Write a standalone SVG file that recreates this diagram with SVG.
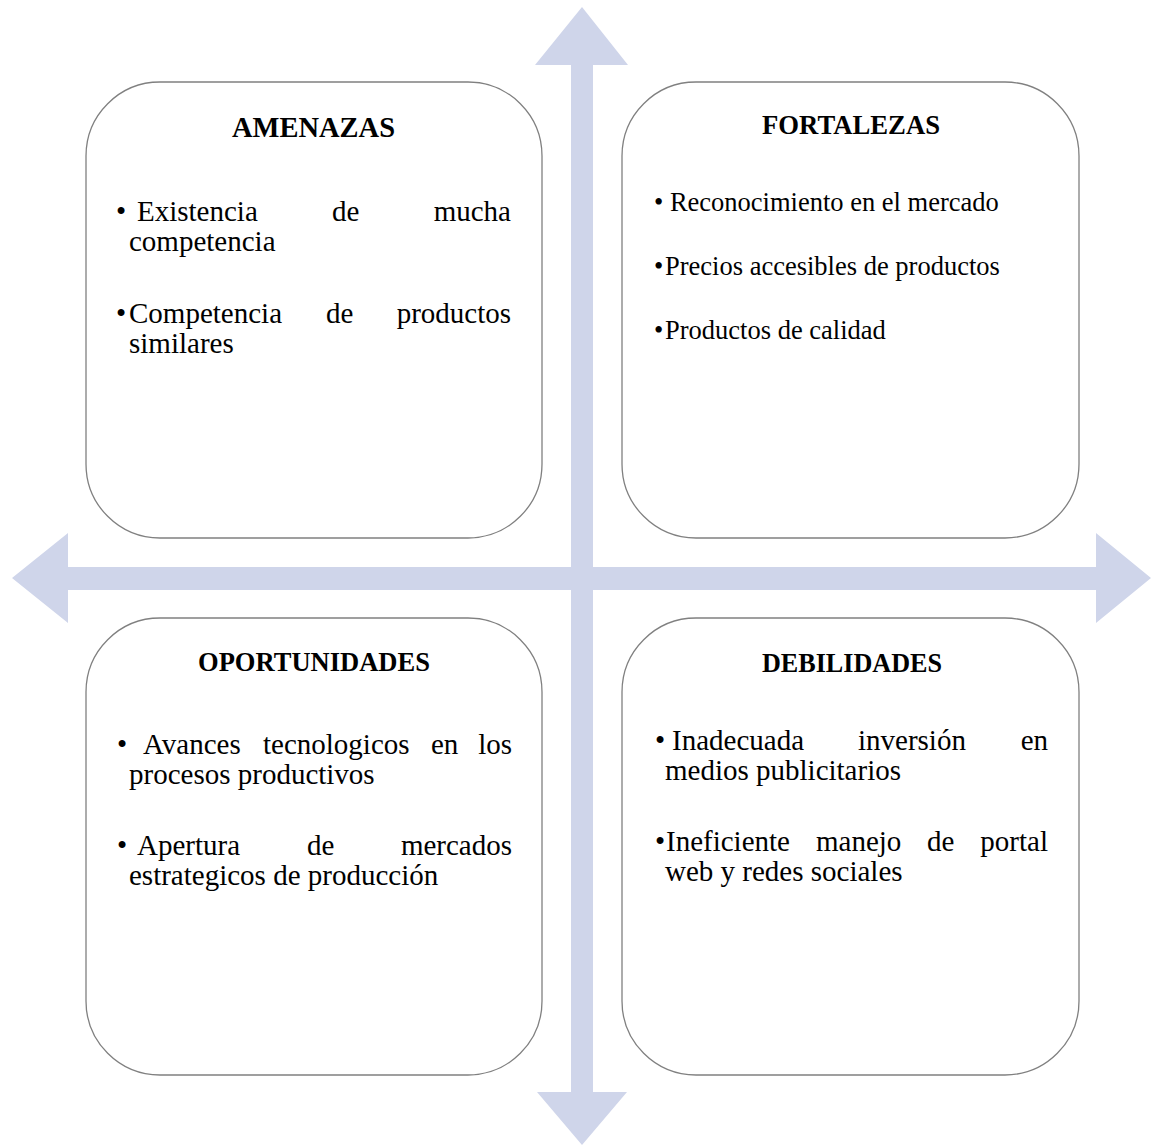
<svg xmlns="http://www.w3.org/2000/svg" width="1151" height="1146" viewBox="0 0 1151 1146">
<style>
.box{fill:#ffffff;stroke:#808080;stroke-width:1.3}
.arrow{fill:#cfd5ea;stroke:none}
.title{font-family:"Liberation Serif","Times New Roman",serif;font-weight:bold;font-size:27px;fill:#000}
.body{font-family:"Liberation Serif","Times New Roman",serif;font-size:26.5px;fill:#000}
.big{font-size:29px}
.end{text-anchor:end}
</style>
<rect width="1151" height="1146" fill="#ffffff"/>
<g id="connectors">
<polygon class="arrow" points="571,65 535,65 582,7 628,65 593,65 593,1092 627,1092 582,1145 537,1092 571,1092"/>
<polygon class="arrow" points="68,567 68,533 12,578 68,623 68,590 1096,590 1096,623 1151,578 1096,533 1096,567"/>
</g>
<g id="amenazas">
<rect class="box" x="86" y="82" width="456" height="456" rx="74" ry="74"/>
<text class="title" x="232" y="137" textLength="163" lengthAdjust="spacingAndGlyphs" style="font-size:28.5px">AMENAZAS</text>
<text class="body big" x="116" y="221">•</text>
<text class="body big" x="137" y="221">Existencia</text>
<text class="body big" x="332" y="221">de</text>
<text class="body big end" x="511" y="221">mucha</text>
<text class="body big" x="129" y="251">competencia</text>
<text class="body big" x="116" y="323">•</text>
<text class="body big" x="129" y="323">Competencia</text>
<text class="body big" x="326" y="323">de</text>
<text class="body big end" x="511" y="323">productos</text>
<text class="body big" x="129" y="353">similares</text>
</g>
<g id="fortalezas">
<rect class="box" x="622" y="82" width="457" height="456" rx="74" ry="74"/>
<text class="title" x="762" y="134" textLength="178" lengthAdjust="spacingAndGlyphs">FORTALEZAS</text>
<text class="body" x="654" y="211">• Reconocimiento en el mercado</text>
<text class="body" x="654" y="275">•</text>
<text class="body" x="665" y="275">Precios accesibles de productos</text>
<text class="body" x="654" y="339">•</text>
<text class="body" x="665" y="339">Productos de calidad</text>
</g>
<g id="oportunidades">
<rect class="box" x="86" y="618" width="456" height="457" rx="74" ry="74"/>
<text class="title" x="198" y="671" textLength="232" lengthAdjust="spacingAndGlyphs">OPORTUNIDADES</text>
<text class="body big" x="117" y="754">•</text>
<text class="body big" x="143" y="754">Avances</text>
<text class="body big" x="263" y="754">tecnologicos</text>
<text class="body big" x="431" y="754">en</text>
<text class="body big end" x="512" y="754">los</text>
<text class="body big" x="129" y="784">procesos productivos</text>
<text class="body big" x="117" y="855">•</text>
<text class="body big" x="137" y="855">Apertura</text>
<text class="body big" x="307" y="855">de</text>
<text class="body big end" x="512" y="855">mercados</text>
<text class="body big" x="129" y="885">estrategicos de producción</text>
</g>
<g id="debilidades">
<rect class="box" x="622" y="618" width="457" height="457" rx="74" ry="74"/>
<text class="title" x="762" y="672" textLength="180" lengthAdjust="spacingAndGlyphs">DEBILIDADES</text>
<text class="body big" x="655" y="750">•</text>
<text class="body big" x="672" y="750">Inadecuada</text>
<text class="body big" x="858" y="750">inversión</text>
<text class="body big end" x="1048" y="750">en</text>
<text class="body big" x="665" y="780">medios publicitarios</text>
<text class="body big" x="655" y="851">•</text>
<text class="body big" x="666" y="851">Ineficiente</text>
<text class="body big" x="816" y="851">manejo</text>
<text class="body big" x="927" y="851">de</text>
<text class="body big end" x="1048" y="851">portal</text>
<text class="body big" x="665" y="881">web y redes sociales</text>
</g>
</svg>
